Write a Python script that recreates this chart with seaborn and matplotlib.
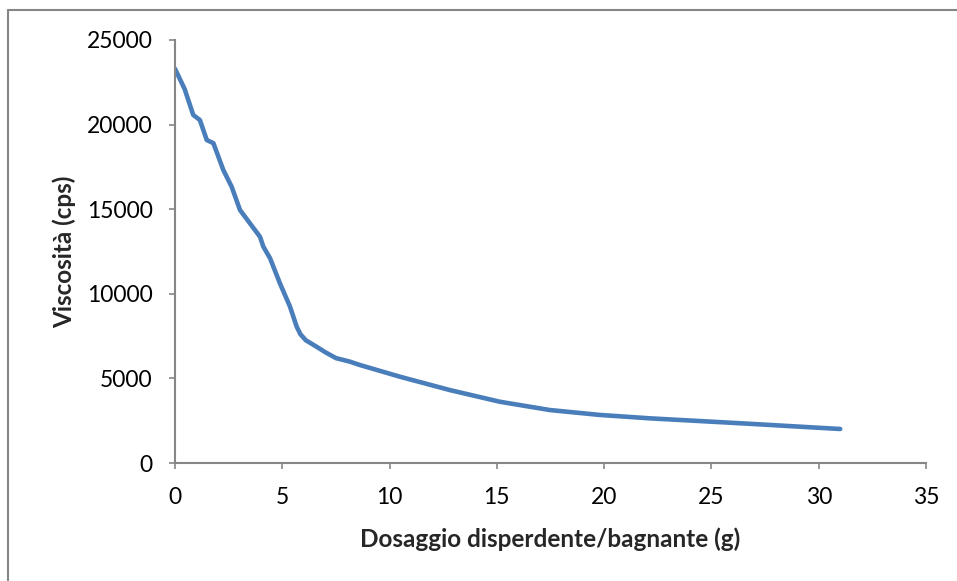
import matplotlib
matplotlib.use("Agg")
import matplotlib.pyplot as plt
import seaborn as sns
import pandas as pd
from matplotlib.lines import Line2D

# Data
dosaggio = [0.0, 0.45, 0.85, 1.16, 1.48, 1.79, 2.25, 2.64, 3.03, 3.49, 3.96,
            4.12, 4.43, 4.89, 5.36, 5.67, 5.85, 6.1, 6.6, 7.0, 7.5, 8.15, 8.62,
            10.48, 12.81, 15.14, 17.47, 19.80, 22.13, 26.33, 31.0]
viscosita = [23300, 22100, 20570, 20270, 19090, 18900, 17320, 16330, 14950, 14170, 13370,
             12780, 12100, 10620, 9240, 8060, 7600, 7250, 6870, 6550, 6200, 5990, 5790,
             5100, 4310, 3620, 3130, 2840, 2640, 2350, 2010]

x_ticks = [0, 5, 10, 15, 20, 25, 30, 35]
y_ticks = [0, 5000, 10000, 15000, 20000, 25000]

df = pd.DataFrame({"x": dosaggio, "y": viscosita})

sns.set_theme(style="white")
plt.rcParams['font.family'] = ['Lato', 'DejaVu Sans']

fig = plt.figure(figsize=(9.57, 5.81), dpi=100)
ax = fig.add_axes([175 / 957, 1 - 463 / 581, (926 - 175) / 957, (463 - 40) / 581])

sns.lineplot(data=df, x="x", y="y", ax=ax, sort=False, color="#4A7EBB",
             linewidth=3.3, solid_capstyle="round", solid_joinstyle="round")

ax.set_xlim(0, 35)
ax.set_ylim(0, 25000)
ax.set_xticks(x_ticks)
ax.set_yticks(y_ticks)
ax.set_xticklabels([str(t) for t in x_ticks])
ax.set_yticklabels([str(t) for t in y_ticks])

for s in ["top", "right"]:
    ax.spines[s].set_visible(False)
for s in ["left", "bottom"]:
    ax.spines[s].set_color("#868686")
    ax.spines[s].set_linewidth(1.5)

ax.tick_params(axis="both", direction="out", length=4, width=1.2, color="#868686",
               labelsize=16.5, labelcolor="black", bottom=True, left=True)
ax.tick_params(axis="x", pad=13)
ax.tick_params(axis="y", pad=12)

ax.set_xlabel("Dosaggio disperdente/bagnante (g)", fontsize=17.5, fontweight="bold", labelpad=14)
ax.set_ylabel("Viscosità (cps)", fontsize=17.5, fontweight="bold", labelpad=8)

# chart-area frame (only top and left edges are visible in the crop)
fig.add_artist(Line2D([8 / 957, 8 / 957], [0, 1 - 10 / 581], transform=fig.transFigure,
                      color="#868686", linewidth=1.5))
fig.add_artist(Line2D([8 / 957, 1], [1 - 10 / 581, 1 - 10 / 581], transform=fig.transFigure,
                      color="#868686", linewidth=1.5))

fig.savefig("out.png", dpi=100)
